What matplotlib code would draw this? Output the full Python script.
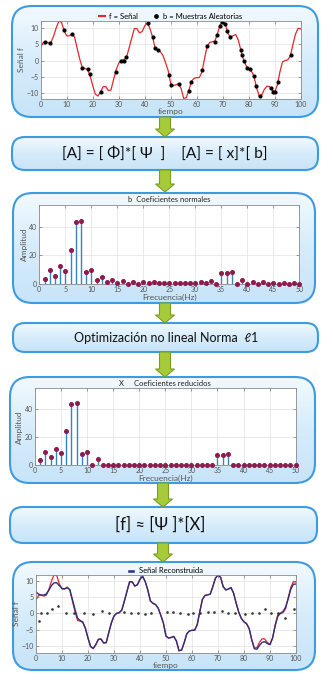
import numpy as np
import matplotlib
matplotlib.use('Agg')
import matplotlib.pyplot as plt
from matplotlib.patches import FancyBboxPatch, Polygon
from matplotlib.colors import LinearSegmentedColormap
from matplotlib.lines import Line2D

plt.rcParams['font.family'] = ['Lato', 'DejaVu Sans']

# ---------------- data ----------------
tiempo = list(range(101))
senal_f = [4.1, 5.5, 5.7, 5.3, 5.6, 7.5, 10.0, 12.0, 11.6, 9.0,
           7.5, 7.5, 8.1, 7.2, 3.8, 0.5, -2.2, -2.4, -2.7, -4.6,
           -7.6, -10.2, -10.8, -9.6, -8.0, -7.9, -9.1, -9.0, -5.9, -2.9,
           -0.8, 0.0, 0.2, 1.0, 3.8, 6.8, 9.7, 9.7, 8.4, 8.8,
           10.5, 11.4, 9.8, 7.2, 3.8, 3.1, 2.7, 1.6, -0.6, -3.0,
           -7.0, -7.6, -7.4, -7.1, -8.5, -11.5, -11.3, -9.0, -6.3, -5.4,
           -5.2, -5.2, -3.5, 0.5, 4.3, 5.5, 5.7, 5.9, 8.2, 10.8,
           11.8, 11.1, 8.2, 7.2, 7.5, 7.9, 6.2, 3.1, 0.3, -1.6,
           -2.6, -3.2, -4.7, -8.2, -10.7, -10.5, -8.8, -7.8, -7.9, -9.0,
           -9.5, -7.5, -3.5, -0.4, 0.0, 0.2, 1.4, 4.8, 8.0, 9.8, 9.6]
senal_rec = [6.6, 5.9, 5.6, 5.6, 6.0, 7.2, 8.6, 9.4, 9.4, 8.5,
             7.7, 7.5, 7.9, 7.3, 4.3, 1.2, -1.5, -2.2, -2.7, -4.6,
             -7.6, -10.2, -10.8, -9.6, -8.0, -7.9, -9.1, -9.0, -5.9, -2.9,
             -0.8, 0.0, 0.2, 1.0, 3.8, 6.8, 9.7, 9.7, 8.4, 8.8,
             10.5, 11.4, 9.8, 7.2, 3.8, 3.1, 2.7, 1.6, -0.6, -3.0,
             -7.0, -7.6, -7.4, -7.1, -8.5, -11.5, -11.3, -9.0, -6.3, -5.4,
             -5.2, -5.2, -3.5, 0.5, 4.3, 5.5, 5.7, 5.9, 8.2, 10.8,
             11.8, 11.1, 8.2, 7.2, 7.5, 7.9, 6.2, 3.1, 0.3, -1.6,
             -2.6, -3.2, -4.7, -8.2, -10.9, -11.0, -9.8, -8.9, -8.7, -9.3,
             -9.6, -7.6, -3.8, -0.9, 0.0, 0.6, 1.9, 4.5, 7.4, 9.0, 9.0]
muestras_t = [1.8, 3.5, 8.8, 12, 16, 18.1, 18.8, 23.1, 28.8, 31, 32, 32.9,
              41.3, 43.2, 44.1, 45.1, 49.4, 50.2, 53.2, 56.9, 57.9, 62.2,
              64.1, 67.2, 67.9, 68.8, 69.7, 71, 71.8, 72.9, 76.9, 77.4,
              78.2, 79.5, 80.4, 82, 82.9, 84.2, 88.7, 89.5, 90.3, 91.3, 96.2]
muestras_v = [5.7, 5.2, 9.2, 8.1, -2.2, -2.7, -4.2, -9.5, -3.5, 0.0, 0.0, 1.0,
              11.4, 7.2, 3.8, 3.1, -4.4, -7.3, -7.1, -9.3, -6.5, -3.0,
              4.4, 5.7, 7.9, 10.4, 11.7, 11.1, 8.9, 7.2, 3.3, 1.8,
              -0.2, -2.4, -2.7, -4.7, -7.8, -10.8, -8.3, -9.5, -9.5, -6.5, 1.6]
error_t = [1.2, 2.0, 4.4, 6.3, 8.5, 11.4, 14.6, 18.5, 22, 25.2, 28, 33.8, 36.4,
           39.2, 41.8, 44.4, 50.3, 52.8, 55.4, 58.6, 60.5, 63.1, 66.3, 68.6,
           71.4, 74, 76.5, 80.4, 83, 85.6, 87.9, 90.5, 93.1, 95.9, 99.1]
error_v = [-2.3, 0.0, 0.0, 1.2, 2.2, 0.2, 0.2, 0.2, -0.1, 0.6, 0.2, 0.3, 0.0,
           0.2, -0.3, 0.2, 0.5, 0.3, 0.2, -0.2, 0.0, 0.2, 0.5, 0.5,
           0.8, 0.2, 0.0, -0.3, 0.0, 0.2, 1.2, 0.2, 0.2, -1.5, 1.2]
frecuencia = list(range(1, 51))
coef_b = [4.0, 10.0, 6.0, 12.4, 8.9, 24.0, 43.5, 44.2, 8.2, 9.6,
          3.0, 4.9, 1.6, 3.0, 1.2, 2.3, 0.5, 1.9, 0.5, 1.6,
          0.7, 1.4, 0.7, 1.2, 1.0, 1.0, 1.0, 1.0, 1.2, 1.0,
          1.6, 0.7, 2.6, 0.5, 7.7, 7.7, 8.2, 0.5, 2.8, 0.5,
          1.9, 0.5, 1.4, 0.5, 1.2, 0.5, 1.2, 0.5, 1.0, 0.5]
coef_x = [3.8, 9.6, 5.6, 12.0, 8.5, 24.2, 43.5, 44.2, 7.8, 9.2,
          0.0, 4.5, 0, 0, 0, 0, 0, 0, 0, 0,
          0, 0, 0, 0, 0, 0, 0, 0, 0, 0,
          0, 0, 0, 0, 7.5, 7.5, 7.8, 0, 0, 0,
          0, 0, 0, 0, 0, 0, 0, 0, 0, 0]

# ---------------- figure ----------------
W, H = 333, 681
fig = plt.figure(figsize=(W / 100, H / 100), dpi=100)
bg = fig.add_axes([0, 0, 1, 1])
bg.axis('off')

cmap = LinearSegmentedColormap.from_list('box', ['#f2f9fe', '#d6ecfb', '#c8e4f8'])
EDGE = '#3d9be0'


def box(x0, y0, x1, y1, r):
    p = FancyBboxPatch((x0, y0), x1 - x0, y1 - y0,
                       boxstyle=f"round,pad=0,rounding_size={r}",
                       fc='none', ec=EDGE, lw=1.5, zorder=2)
    bg.add_patch(p)
    grad = np.linspace(0, 1, 64).reshape(-1, 1)
    im = bg.imshow(grad, extent=(x0, x1, y1, y0), cmap=cmap, aspect='auto',
                   origin='upper', zorder=1)
    im.set_clip_path(p)


def arrow(cx, y0, y1):
    sw, hw, hl = 5.5, 9.5, 8
    pts = [(cx - sw, y0), (cx + sw, y0), (cx + sw, y1 - hl), (cx + hw, y1 - hl),
           (cx, y1), (cx - hw, y1 - hl), (cx - sw, y1 - hl)]
    bg.add_patch(Polygon(pts, closed=True, fc='#a6ca3a', ec='#789f22', lw=0.8, zorder=3))


box(12, 6, 318, 117, 20)
box(12, 137, 318, 170, 13)
box(13, 193, 315, 303, 20)
box(13, 323, 318, 352, 12)
box(10, 377, 315, 483, 20)
box(10, 507, 317, 543, 13)
box(13, 562, 315, 670, 20)

arrow(165, 117, 137)
arrow(165, 170, 192)
arrow(165, 303, 323)
arrow(165, 352, 377)
arrow(163, 483, 507)
arrow(163, 543, 562)

bg.set_xlim(0, W)
bg.set_ylim(H, 0)

bg.text(165, 153.5, '[A] = [ \u03a6]*[ \u03a8  ]    [A] = [ x]*[ b]', ha='center', va='center',
        fontsize=11.2, color='#111111', zorder=4)
bg.text(166, 337.5, 'Optimizaci\u00f3n no lineal Norma  \u21131', ha='center', va='center',
        fontsize=9, color='#111111', zorder=4)
bg.text(160, 525, '[f] \u2248 [\u03a8 ]*[X]', ha='center', va='center',
        fontsize=12, color='#111111', zorder=4)


def make_ax(x0, y0, x1, y1):
    ax = fig.add_axes([x0 / W, 1 - y1 / H, (x1 - x0) / W, (y1 - y0) / H])
    ax.set_facecolor('white')
    for s in ax.spines.values():
        s.set_color('#8a8a8a')
        s.set_linewidth(0.6)
    ax.grid(True, color='#e2e2e2', lw=0.5)
    ax.set_axisbelow(True)
    ax.tick_params(direction='in', length=2, width=0.5, labelsize=5,
                   labelcolor='#555555', color='#777777', pad=1.5,
                   top=True, right=True)
    return ax


LAB = dict(fontsize=6, color='#555555')

# plot 1: original signal
ax1 = make_ax(40.7, 20.7, 300.7, 98.7)
ax1.plot(tiempo, senal_f, color='#e0282e', lw=0.9)
ax1.plot(muestras_t, muestras_v, 'o', color='black', ms=2.0, lw=0)
ax1.set_xlim(0, 100)
ax1.set_ylim(-11.6, 12.1)
ax1.set_xticks(range(0, 101, 10))
ax1.set_yticks([-10, -5, 0, 5, 10])
ax1.set_xlabel('tiempo', labelpad=0, **LAB)
ax1.set_ylabel('Se\u00f1al f', labelpad=1, **LAB)
h1 = [Line2D([], [], color='#e0282e', lw=1.5),
      Line2D([], [], color='black', marker='o', ms=2.4, lw=0)]
ax1.legend(h1, ['f = Se\u00f1al', 'b = Muestras Aleatorias'], loc='lower center',
           bbox_to_anchor=(0.5, 0.99), ncol=2, frameon=False, fontsize=5.5,
           handlelength=0.8, handletextpad=0.5, columnspacing=2.0, borderaxespad=0.1,
           borderpad=0.1)


# stem plots
def stem_ax(ax, vals):
    ml, sl, bl = ax.stem(frecuencia, vals, basefmt=' ')
    plt.setp(sl, color='#3584c4', lw=1.0)
    plt.setp(ml, color='#8c1c4c', ms=2.6, mec='#8c1c4c', clip_on=False, zorder=5)
    ax.set_xlim(0, 50)
    ax.set_ylim(0, 55)
    ax.set_xticks(range(0, 51, 5))
    ax.set_yticks([0, 20, 40])
    ax.set_xlabel('Frecuencia(Hz)', labelpad=0, **LAB)
    ax.set_ylabel('Amplitud', labelpad=1, **LAB)


ax3 = make_ax(39.3, 205, 299.3, 284.3)
stem_ax(ax3, coef_b)
ax3.set_title('b  Coeficientes normales', fontsize=5.5, pad=2, color='#222222')

ax5 = make_ax(35, 388.3, 295.7, 465.3)
stem_ax(ax5, coef_x)
ax5.set_title('X     Coeficientes reducidos', fontsize=5.5, pad=2, color='#222222')

# plot 7: reconstruction
ax7 = make_ax(36, 575, 296, 652.7)
ax7.plot(tiempo, senal_f, color='#e0282e', lw=0.9)
ax7.plot(tiempo, senal_rec, color='#2a2f7c', lw=1.0)
ax7.plot(error_t, error_v, 's', color='#333333', ms=0.8, lw=0)
ax7.set_xlim(0, 100)
ax7.set_ylim(-12.1, 11.8)
ax7.set_xticks(range(0, 101, 10))
ax7.set_yticks([-10, -5, 0, 5, 10])
ax7.set_xlabel('tiempo', labelpad=0, **LAB)
ax7.set_ylabel('Se\u00f1al f', labelpad=1, **LAB)
h7 = [Line2D([], [], color='#2a2f7c', lw=1.8)]
ax7.legend(h7, ['Se\u00f1al Reconstruida'], loc='lower center',
           bbox_to_anchor=(0.5, 0.99), frameon=False, fontsize=5.5,
           handlelength=0.5, handletextpad=0.8, borderaxespad=0.1, borderpad=0.1)

fig.savefig('out.png', dpi=100)
